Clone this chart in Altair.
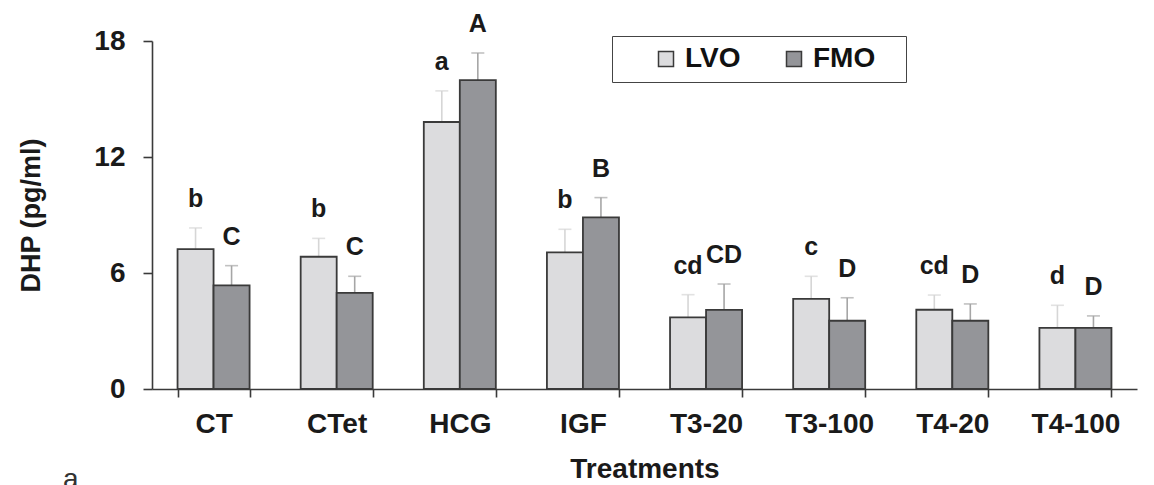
import altair as alt
import pandas as pd

treatments = ["CT", "CTet", "HCG", "IGF", "T3-20", "T3-100", "T4-20", "T4-100"]
groups = ["LVO", "FMO"]
lvo_mean = [7.24, 6.84, 13.81, 7.07, 3.70, 4.66, 4.10, 3.16]
lvo_se = [1.09, 0.95, 1.61, 1.19, 1.18, 1.17, 0.76, 1.17]
fmo_mean = [5.36, 4.97, 15.98, 8.88, 4.09, 3.53, 3.53, 3.16]
fmo_se = [1.02, 0.86, 1.40, 1.02, 1.34, 1.19, 0.87, 0.62]
lvo_letters = ["b", "b", "a", "b", "cd", "c", "cd", "d"]
fmo_letters = ["C", "C", "A", "B", "CD", "D", "D", "D"]
y_ticks = [0, 6, 12, 18]
bar_colors = ["#dcdcde", "#949599"]
err_colors = ["#d6d6d6", "#a6a6a6"]

rows = []
for i, t in enumerate(treatments):
    rows.append({"treatment": t, "group": "LVO", "mean": lvo_mean[i],
                 "top": round(lvo_mean[i] + lvo_se[i], 3), "letter": lvo_letters[i]})
    rows.append({"treatment": t, "group": "FMO", "mean": fmo_mean[i],
                 "top": round(fmo_mean[i] + fmo_se[i], 3), "letter": fmo_letters[i]})
df = pd.DataFrame(rows)

FONT = "Liberation Sans"
NB = "\u00a0"
BLANK = "\u2800"

x_enc = alt.X("treatment:N", sort=treatments,
              scale=alt.Scale(paddingInner=0.415, paddingOuter=0.2075),
              axis=alt.Axis(title="Treatments", labelAngle=0, tickBand="extent",
                            tickSize=8, labelPadding=13, titlePadding=17))
xo_enc = alt.XOffset("group:N", sort=groups,
                     scale=alt.Scale(domain=groups, paddingInner=0, paddingOuter=0))
y_scale = alt.Scale(domain=[0, 18], nice=False)

base = alt.Chart(df).encode(x=x_enc, xOffset=xo_enc)

err_layers = []
for g, c in zip(groups, err_colors):
    sub = base.transform_filter(alt.datum.group == g)
    err_layers.append(sub.mark_rule(strokeWidth=1.6, color=c).encode(
        y=alt.Y("mean:Q", scale=y_scale,
                axis=alt.Axis(title="DHP (pg/ml)", values=y_ticks, grid=False,
                              tickSize=9, labelPadding=18, titlePadding=48)),
        y2="top:Q"))
    err_layers.append(sub.mark_tick(size=13, thickness=1.6, color=c).encode(
        y=alt.Y("top:Q", scale=y_scale)))

bars = base.mark_bar(stroke="#3a3a3a", strokeWidth=1.8).encode(
    y=alt.Y("mean:Q", scale=y_scale),
    fill=alt.Fill("group:N", scale=alt.Scale(domain=groups, range=bar_colors),
                  legend=alt.Legend(title=NB, titleOrient="left", titlePadding=31,
                                    titleFontSize=10, orient="none", legendX=460, legendY=-5,
                                    direction="horizontal", columns=2, columnPadding=39,
                                    padding=9, strokeColor="#444", symbolType="square",
                                    symbolSize=225, symbolStrokeColor="#3a3a3a",
                                    symbolStrokeWidth=1.5, labelFontSize=28,
                                    labelFontWeight="bold", labelColor="#111",
                                    labelOffset=5, labelFont=FONT,
                                    labelExpr="datum.label == 'FMO' ? datum.label + '"
                                              + BLANK + "' : datum.label")),
)
letters = base.mark_text(fontSize=25, fontWeight="bold", font=FONT, color="#1a1a1a",
                         baseline="alphabetic", dy=-21).encode(
    y=alt.Y("top:Q", scale=y_scale),
    text="letter:N",
)

chart = alt.layer(*err_layers, bars, letters).properties(
    width=985, height=348,
    autosize=alt.AutoSizeParams(type="none"),
    padding={"left": 144, "top": 33, "right": 9, "bottom": 96},
    title=alt.TitleParams("a", orient="bottom", anchor="start", frame="group",
                          dx=-89, dy=-21, fontSize=28, fontWeight="normal",
                          font=FONT, color="#333"),
).configure_view(stroke=None).configure_axis(
    labelFont=FONT, titleFont=FONT, labelFontSize=28, labelFontWeight="bold",
    titleFontSize=28, titleFontWeight="bold", labelColor="#1a1a1a", titleColor="#1a1a1a",
    domainColor="#3a3a3a", domainWidth=1.6, tickColor="#3a3a3a", tickWidth=1.6,
).configure_axisY(titleFontSize=27)

chart.save("out.html", embed_options={"renderer": "svg", "actions": False})
